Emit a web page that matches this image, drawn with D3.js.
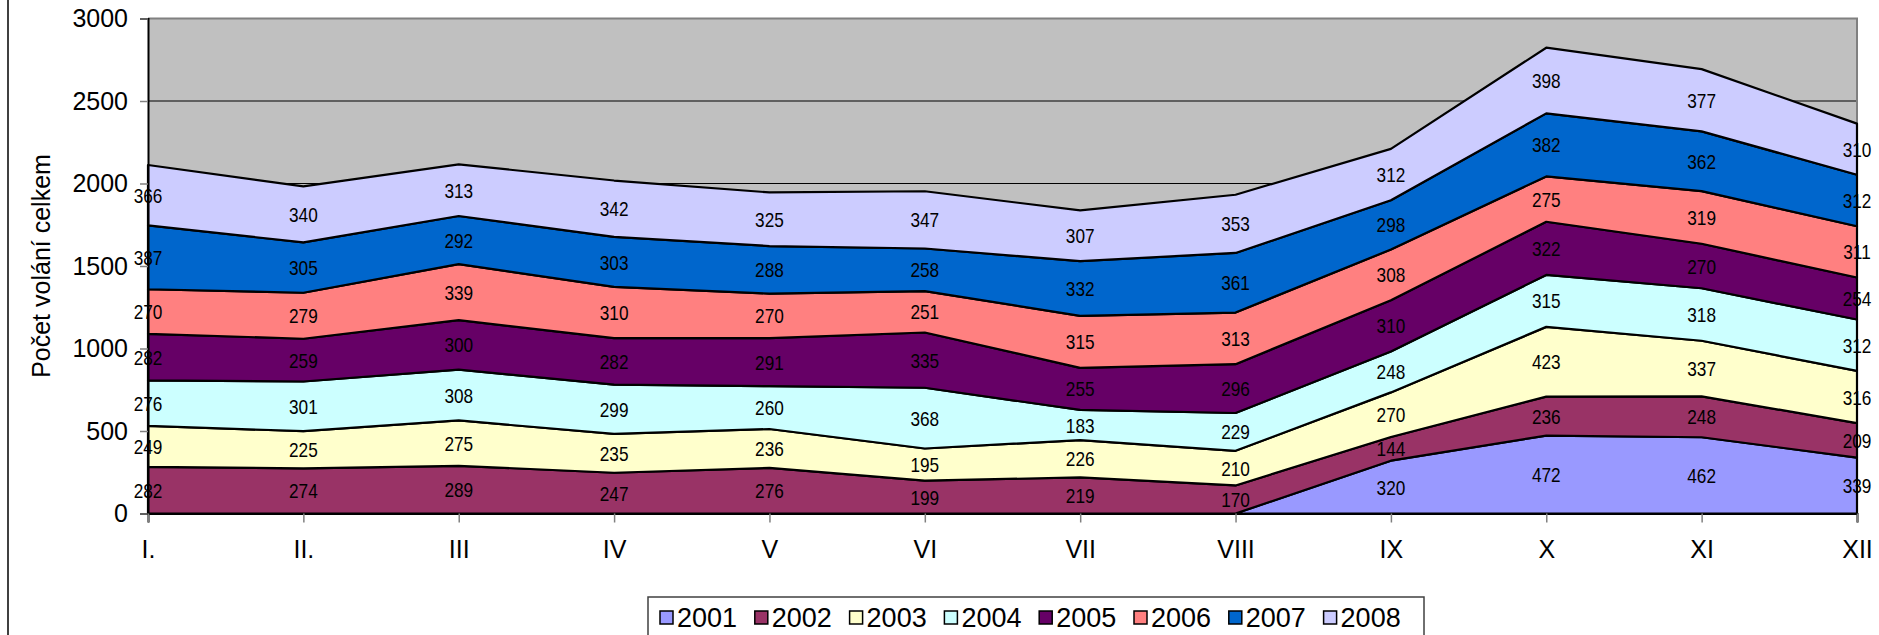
<!DOCTYPE html>
<html>
<head>
<meta charset="utf-8">
<script src="https://cdn.jsdelivr.net/npm/d3@7"></script>
<style>
  html, body { margin: 0; padding: 0; background: #fff; }
  svg { display: block; }
  text { font-family: "Liberation Sans", Arial, sans-serif; fill: #000; }
</style>
</head>
<body>
<svg id="chart" width="1879" height="635"></svg>
<script>
const months = ["I.", "II.", "III", "IV", "V", "VI", "VII", "VIII", "IX", "X", "XI", "XII"];
const years = ["2001", "2002", "2003", "2004", "2005", "2006", "2007", "2008"];
const s2001 = [null, null, null, null, null, null, null, null, 320, 472, 462, 339];
const s2002 = [282, 274, 289, 247, 276, 199, 219, 170, 144, 236, 248, 209];
const s2003 = [249, 225, 275, 235, 236, 195, 226, 210, 270, 423, 337, 316];
const s2004 = [276, 301, 308, 299, 260, 368, 183, 229, 248, 315, 318, 312];
const s2005 = [282, 259, 300, 282, 291, 335, 255, 296, 310, 322, 270, 254];
const s2006 = [270, 279, 339, 310, 270, 251, 315, 313, 308, 275, 319, 311];
const s2007 = [387, 305, 292, 303, 288, 258, 332, 361, 298, 382, 362, 312];
const s2008 = [366, 340, 313, 342, 325, 347, 307, 353, 312, 398, 377, 310];
const yTicks = [0, 500, 1000, 1500, 2000, 2500, 3000];
const colors = ["#9999FF", "#993366", "#FFFFCC", "#CCFFFF", "#660066", "#FF8080", "#0066CC", "#CCCCFF"];
const yTitle = "Počet volání celkem";

const seriesArr = [s2001, s2002, s2003, s2004, s2005, s2006, s2007, s2008];
const table = months.map((m, i) => {
  const row = { month: m };
  years.forEach((y, k) => { row[y] = seriesArr[k][i]; });
  return row;
});

const svg = d3.select("#chart");
const L = 148, R = 1857, T = 18.5, B = 513.5;

const x = d3.scalePoint().domain(months).range([L, R]).padding(0);
const y = d3.scaleLinear().domain([0, 3000]).range([B, T]);

// outer chart border (left)
svg.append("line").attr("x1", 8).attr("x2", 8).attr("y1", 0).attr("y2", 635)
  .attr("stroke", "#404040").attr("stroke-width", 2);

// plot background
svg.append("rect").attr("x", L).attr("y", T).attr("width", R - L).attr("height", B - T)
  .attr("fill", "#C0C0C0");

// gridlines
svg.append("g").selectAll("line").data(yTicks.filter(v => v > 0 && v < 3000)).join("line")
  .attr("x1", L).attr("x2", R).attr("y1", d => y(d)).attr("y2", d => y(d))
  .attr("stroke", "#000").attr("stroke-width", 1);

// plot border top/right
svg.append("path").attr("d", `M${L},${T}H${R}V${B}`).attr("fill", "none")
  .attr("stroke", "#808080").attr("stroke-width", 2);

const stack = d3.stack().keys(years).value((d, k) => d[k] == null ? 0 : d[k]);
const layers = stack(table);

const area = d3.area()
  .x((d, i) => x(months[i]))
  .y0(d => y(d[0]))
  .y1(d => y(d[1]));

svg.append("g").selectAll("path").data(layers).join("path")
  .attr("d", d => area(d))
  .attr("fill", (d, i) => colors[i])
  .attr("stroke", "#000").attr("stroke-width", 2.2).attr("stroke-linejoin", "round");

// y axis
const yAxis = d3.axisLeft(y).tickValues(yTicks).tickSize(8).tickPadding(12).tickFormat(d3.format("d"));
const gy = svg.append("g").attr("transform", `translate(${L},0)`).call(yAxis);
gy.select(".domain").attr("stroke", "#000").attr("stroke-width", 2);
gy.selectAll(".tick line").attr("stroke", "#808080").attr("stroke-width", 1.5);
gy.selectAll(".tick text").attr("font-size", 25).attr("font-family", "Liberation Sans, Arial, sans-serif").attr("fill", "#000");

// x axis
const xAxis = d3.axisBottom(x).tickSize(9).tickPadding(18);
const gx = svg.append("g").attr("transform", `translate(0,${B})`).call(xAxis);
gx.select(".domain").attr("stroke", "#000").attr("stroke-width", 2);
gx.selectAll(".tick line").attr("stroke", "#808080").attr("stroke-width", 1.5);
gx.selectAll(".tick text").attr("font-size", 25).attr("font-family", "Liberation Sans, Arial, sans-serif").attr("fill", "#000");

// y title
svg.append("text").attr("transform", `translate(50,266) rotate(-90)`)
  .attr("text-anchor", "middle").attr("font-size", 25).text(yTitle);

// data labels (condensed look)
const lblG = svg.append("g");
layers.forEach((layer, k) => {
  layer.forEach((d, i) => {
    const v = seriesArr[k][i];
    if (v == null) return;
    lblG.append("text")
      .attr("transform", `translate(${x(months[i])},${y((d[0] + d[1]) / 2)}) scale(0.82,1)`)
      .attr("dy", "0.36em")
      .attr("text-anchor", "middle")
      .attr("font-size", 21)
      .text(v);
  });
});

// legend
const lg = svg.append("g");
lg.append("rect").attr("x", 648).attr("y", 597).attr("width", 776).attr("height", 45)
  .attr("fill", "#fff").attr("stroke", "#404040").attr("stroke-width", 1.5);
years.forEach((yr, k) => {
  const gx0 = 660 + k * 94.8;
  lg.append("rect").attr("x", gx0).attr("y", 611).attr("width", 13).attr("height", 13)
    .attr("fill", colors[k]).attr("stroke", "#000").attr("stroke-width", 1.5);
  lg.append("text").attr("x", gx0 + 17).attr("y", 627).attr("font-size", 27).text(yr);
});
</script>
</body>
</html>
